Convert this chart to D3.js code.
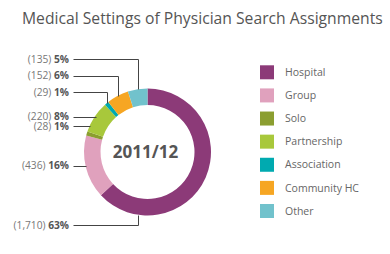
<!DOCTYPE html>
<html><head><meta charset="utf-8">
<script src="https://cdn.jsdelivr.net/npm/d3@7"></script>
<style>body{margin:0;background:#fff;}svg{display:block;font-family:"Open Sans",sans-serif;}</style>
</head><body><svg id="c" width="390" height="254"></svg>
<script>
const categories = ["Hospital","Group","Solo","Partnership","Association","Community HC","Other"];
const values = [1710, 436, 28, 220, 29, 152, 135];
const countLabels = ["(1,710)","(436)","(28)","(220)","(29)","(152)","(135)"];
const percentLabels = ["63%","16%","1%","8%","1%","6%","5%"];
const colors = ["#8c3a78","#e0a1bd","#8b9e30","#a8c83b","#00aab0","#f6a623","#71c2cc"];
const centerLabel = "2011/12";
const title = "Medical Settings of Physician Search Assignments";

const svg = d3.select("#c");
const cx = 147.5, cy = 152, R = 63.5, r = 47;

svg.append("text").attr("x", 22).attr("y", 24).attr("font-size", 15.7)
  .attr("fill", "#555").text(title);

const pie = d3.pie().sort(null).value(d => d);
const arcs = pie(values);
const arc = d3.arc().innerRadius(r).outerRadius(R);
const g = svg.append("g").attr("transform", `translate(${cx},${cy})`);
g.selectAll("path").data(arcs).enter().append("path")
  .attr("d", arc).attr("fill", (d,i) => colors[i]);

g.append("text").attr("x", -2).attr("text-anchor","middle").attr("dy","0.35em")
  .attr("font-size", 17).attr("font-weight","bold").attr("fill","#555")
  .text(centerLabel);

// label layout
const labelY = [225, 165.7, 126.2, 116.8, 92, 75.7, 59.3];
const elbowAtMid = [false, false, false, false, true, true, true];
const textRight = 69, lineStart = 73;
const lines = svg.append("g").attr("fill","none").attr("stroke","#444").attr("stroke-width",1);
arcs.forEach((a, i) => {
  const y = labelY[i];
  let pts;
  if (elbowAtMid[i] || i === 0) {
    let ang = (a.startAngle + a.endAngle) / 2;
    if (i === 0) ang = arcs[6].startAngle + (arcs[6].endAngle - arcs[6].startAngle)/2;
    let ex = cx + R * Math.sin(ang);
    let dx = ex - cx;
    let ey = i === 0 ? cy + Math.sqrt(R*R - dx*dx) : cy - Math.sqrt(R*R - dx*dx);
    pts = [[lineStart, y], [ex, y], [ex, ey]];
  } else {
    const dy = y - cy;
    const ex = cx - Math.sqrt(R*R - dy*dy);
    pts = [[lineStart, y], [ex + 1, y]];
  }
  lines.append("path").attr("d", d3.line()(pts.map(p => [Math.round(p[0])+0.5, Math.round(p[1])+0.5])));
  const t = svg.append("text").attr("x", textRight).attr("y", y).attr("dy","0.35em")
    .attr("text-anchor","end").attr("font-size", 10.2);
  t.append("tspan").attr("fill","#777").text(countLabels[i] + " ");
  t.append("tspan").attr("fill","#555").attr("font-weight","bold").text(percentLabels[i]);
});

const leg = svg.append("g");
const legY = d3.scalePoint().domain(categories).range([72.3, 211]);
categories.forEach((c, i) => {
  const y = legY(c);
  leg.append("rect").attr("x", 260).attr("y", y - 7).attr("width", 14).attr("height", 14)
    .attr("fill", colors[i]);
  leg.append("text").attr("x", 285).attr("y", y).attr("dy","0.35em")
    .attr("font-size", 10.5).attr("fill","#666").text(c);
});
</script></body></html>
